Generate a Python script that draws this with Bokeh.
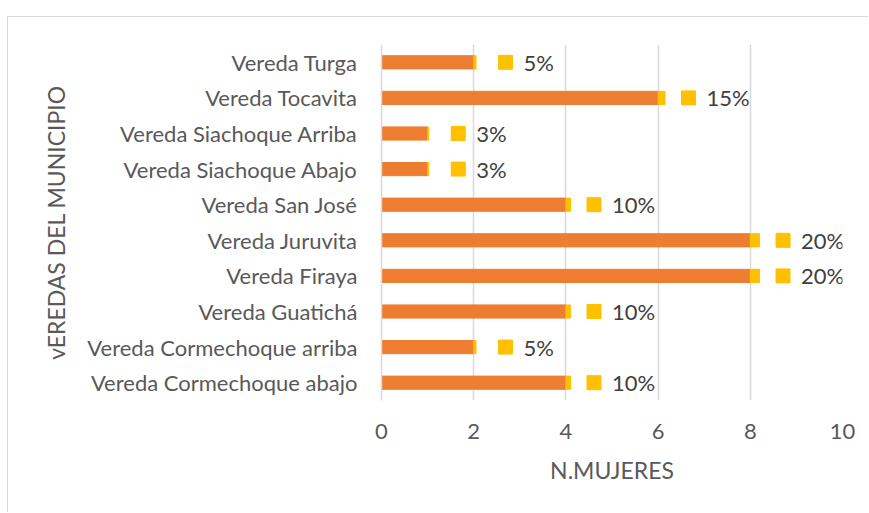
from bokeh.plotting import figure
from bokeh.models import FactorRange, Range1d, FixedTicker, ColumnDataSource
from bokeh.embed import file_html
from bokeh.resources import INLINE
from bokeh.core.properties import value

# Data (bottom to top, as in the chart)
categories = ["Vereda Cormechoque abajo", "Vereda Cormechoque arriba", "Vereda Guatichá",
              "Vereda Firaya", "Vereda Juruvita", "Vereda San José", "Vereda Siachoque Abajo",
              "Vereda Siachoque Arriba", "Vereda Tocavita", "Vereda Turga"]
mujeres = [4, 2, 4, 8, 8, 4, 1, 1, 6, 2]
porcentaje = [0.10, 0.05, 0.10, 0.20, 0.20, 0.10, 0.025, 0.025, 0.15, 0.05]
pct_labels = ["10%", "5%", "10%", "20%", "20%", "10%", "3%", "3%", "15%", "5%"]
x_ticks = [0, 2, 4, 6, 8, 10]
x_title = "N.MUJERES"
y_title = "vEREDAS DEL MUNICIPIO"

FONT = "Lato"
FW, FH = 461, 356
XMAX = 10
px_per_unit = FW / XMAX

ends = [m + q for m, q in zip(mujeres, porcentaje)]
sq_x, txt_off = [], []
for e, lab in zip(ends, pct_labels):
    group_w = 31 + 12 * len(lab)
    left_px = 50 - group_w / 2
    sq_x.append(e + (left_px + 7) / px_per_unit)
    txt_off.append(left_px + 14 + 11)

src = ColumnDataSource(dict(cat=categories, m=mujeres, p=porcentaje, end=ends,
                            lab=pct_labels, sqx=sq_x, toff=txt_off))

p = figure(y_range=FactorRange(factors=categories), x_range=Range1d(0, XMAX),
           frame_width=FW, frame_height=FH, output_backend="svg", toolbar_location=None,
           min_border_left=373, min_border_right=26, min_border_top=27, min_border_bottom=112)
p.margin = (16, 0, 0, 7)
p.styles = {"border-left": "1px solid #d9d9d9", "border-top": "1px solid #d9d9d9"}
p.outline_line_color = None
p.background_fill_color = "white"
p.border_fill_color = "white"

p.hbar(y="cat", left=0, right="m", height=0.37, color="#ED7D31", source=src)
p.hbar(y="cat", left="m", right="end", height=0.37, color="#FFC000", source=src)
p.scatter(x="sqx", y="cat", marker="square", size=14, color="#FFC000", source=src)
p.text(x="end", y="cat", text="lab", x_offset="toff", text_baseline="middle", text_align="left",
       text_font=value(FONT), text_font_size="22px", text_color="#404040", source=src)

p.xaxis.ticker = FixedTicker(ticks=x_ticks)
p.xaxis.axis_line_color = None
p.xaxis.major_tick_line_color = None
p.xaxis.minor_tick_line_color = None
p.xaxis.major_label_text_font = FONT
p.xaxis.major_label_text_font_size = "22px"
p.xaxis.major_label_text_color = "#595959"
p.xaxis.major_label_standoff = 17
p.xaxis.axis_label = x_title
p.xaxis.axis_label_text_font = FONT
p.xaxis.axis_label_text_font_size = "23px"
p.xaxis.axis_label_text_font_style = "normal"
p.xaxis.axis_label_text_color = "#595959"
p.xaxis.axis_label_standoff = 14

p.yaxis.axis_line_color = "#d9d9d9"
p.yaxis.axis_line_width = 1.5
p.yaxis.major_tick_line_color = None
p.yaxis.minor_tick_line_color = None
p.yaxis.major_label_text_font = FONT
p.yaxis.major_label_text_font_size = "22px"
p.yaxis.major_label_text_color = "#595959"
p.yaxis.major_label_standoff = 18
p.yaxis.axis_label = y_title
p.yaxis.axis_label_text_font = FONT
p.yaxis.axis_label_text_font_size = "23px"
p.yaxis.axis_label_text_font_style = "normal"
p.yaxis.axis_label_text_color = "#595959"
p.yaxis.axis_label_standoff = 14

p.xgrid.grid_line_color = "#d9d9d9"
p.xgrid.grid_line_width = 1.5
p.ygrid.grid_line_color = None

open("out.html", "w").write(file_html(p, INLINE))
